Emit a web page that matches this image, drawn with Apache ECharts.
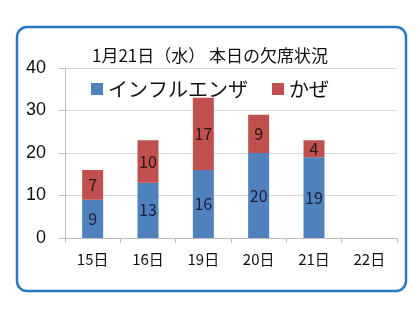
<!DOCTYPE html>
<html><head><meta charset="utf-8">
<script src="https://cdn.jsdelivr.net/npm/echarts@6/dist/echarts.min.js"></script>
<style>html,body{margin:0;padding:0;background:#fff}#c{width:420px;height:315px}</style>
</head><body><div id="c"></div>
<script>
var categories = ['15日','16日','19日','20日','21日','22日'];
var influenza = [9,13,16,20,19,null];
var kaze = [7,10,17,9,4,null];
var yTicks = [0,10,20,30,40];
var titleText = '1月21日（水） 本日の欠席状況';
var seriesNames = ['インフルエンザ','かぜ'];

var font = '"Noto Sans CJK JP","Noto Sans",sans-serif';
var chart = echarts.init(document.getElementById('c'), null, {renderer:'canvas'});
chart.setOption({
  animation:false,
  graphic:[{type:'rect',shape:{x:17,y:27,width:389,height:264,r:10},style:{fill:'#fff',stroke:'#2a78c0',lineWidth:2.5},z:-10}],
  title:{text:titleText,left:'center',top:42,textStyle:{fontFamily:font,fontSize:17,fontWeight:'normal',color:'#111'}},
  legend:{data:seriesNames,top:74,left:'center',itemWidth:12,itemHeight:12,itemGap:24,icon:'rect',
    textStyle:{fontFamily:font,fontSize:20,color:'#111'}},
  grid:{left:65,right:23,top:68,bottom:77},
  xAxis:{type:'category',data:categories,
    axisLine:{lineStyle:{color:'#bfbfbf'}},axisTick:{show:true,length:5,lineStyle:{color:'#bfbfbf'}},
    axisLabel:{fontFamily:font,fontSize:15,color:'#111',margin:14}},
  yAxis:{type:'value',min:0,max:40,interval:10,
    axisLine:{show:true,lineStyle:{color:'#bfbfbf'}},axisTick:{show:true,length:6,lineStyle:{color:'#bfbfbf'}},
    splitLine:{lineStyle:{color:'#d9d9d9'}},
    axisLabel:{fontFamily:'"Liberation Sans",Arial,sans-serif',fontSize:18,color:'#111',margin:19}},
  series:[
    {name:seriesNames[0],type:'bar',stack:'a',data:influenza,barWidth:21,itemStyle:{color:'#4f81bd'},
     label:{show:true,position:'inside',fontFamily:font,fontSize:16,color:'#1a1f3a'}},
    {name:seriesNames[1],type:'bar',stack:'a',data:kaze,barWidth:21,itemStyle:{color:'#c0504d'},
     label:{show:true,position:'inside',fontFamily:font,fontSize:16,color:'#2a1414'}}
  ]
});
</script></body></html>
